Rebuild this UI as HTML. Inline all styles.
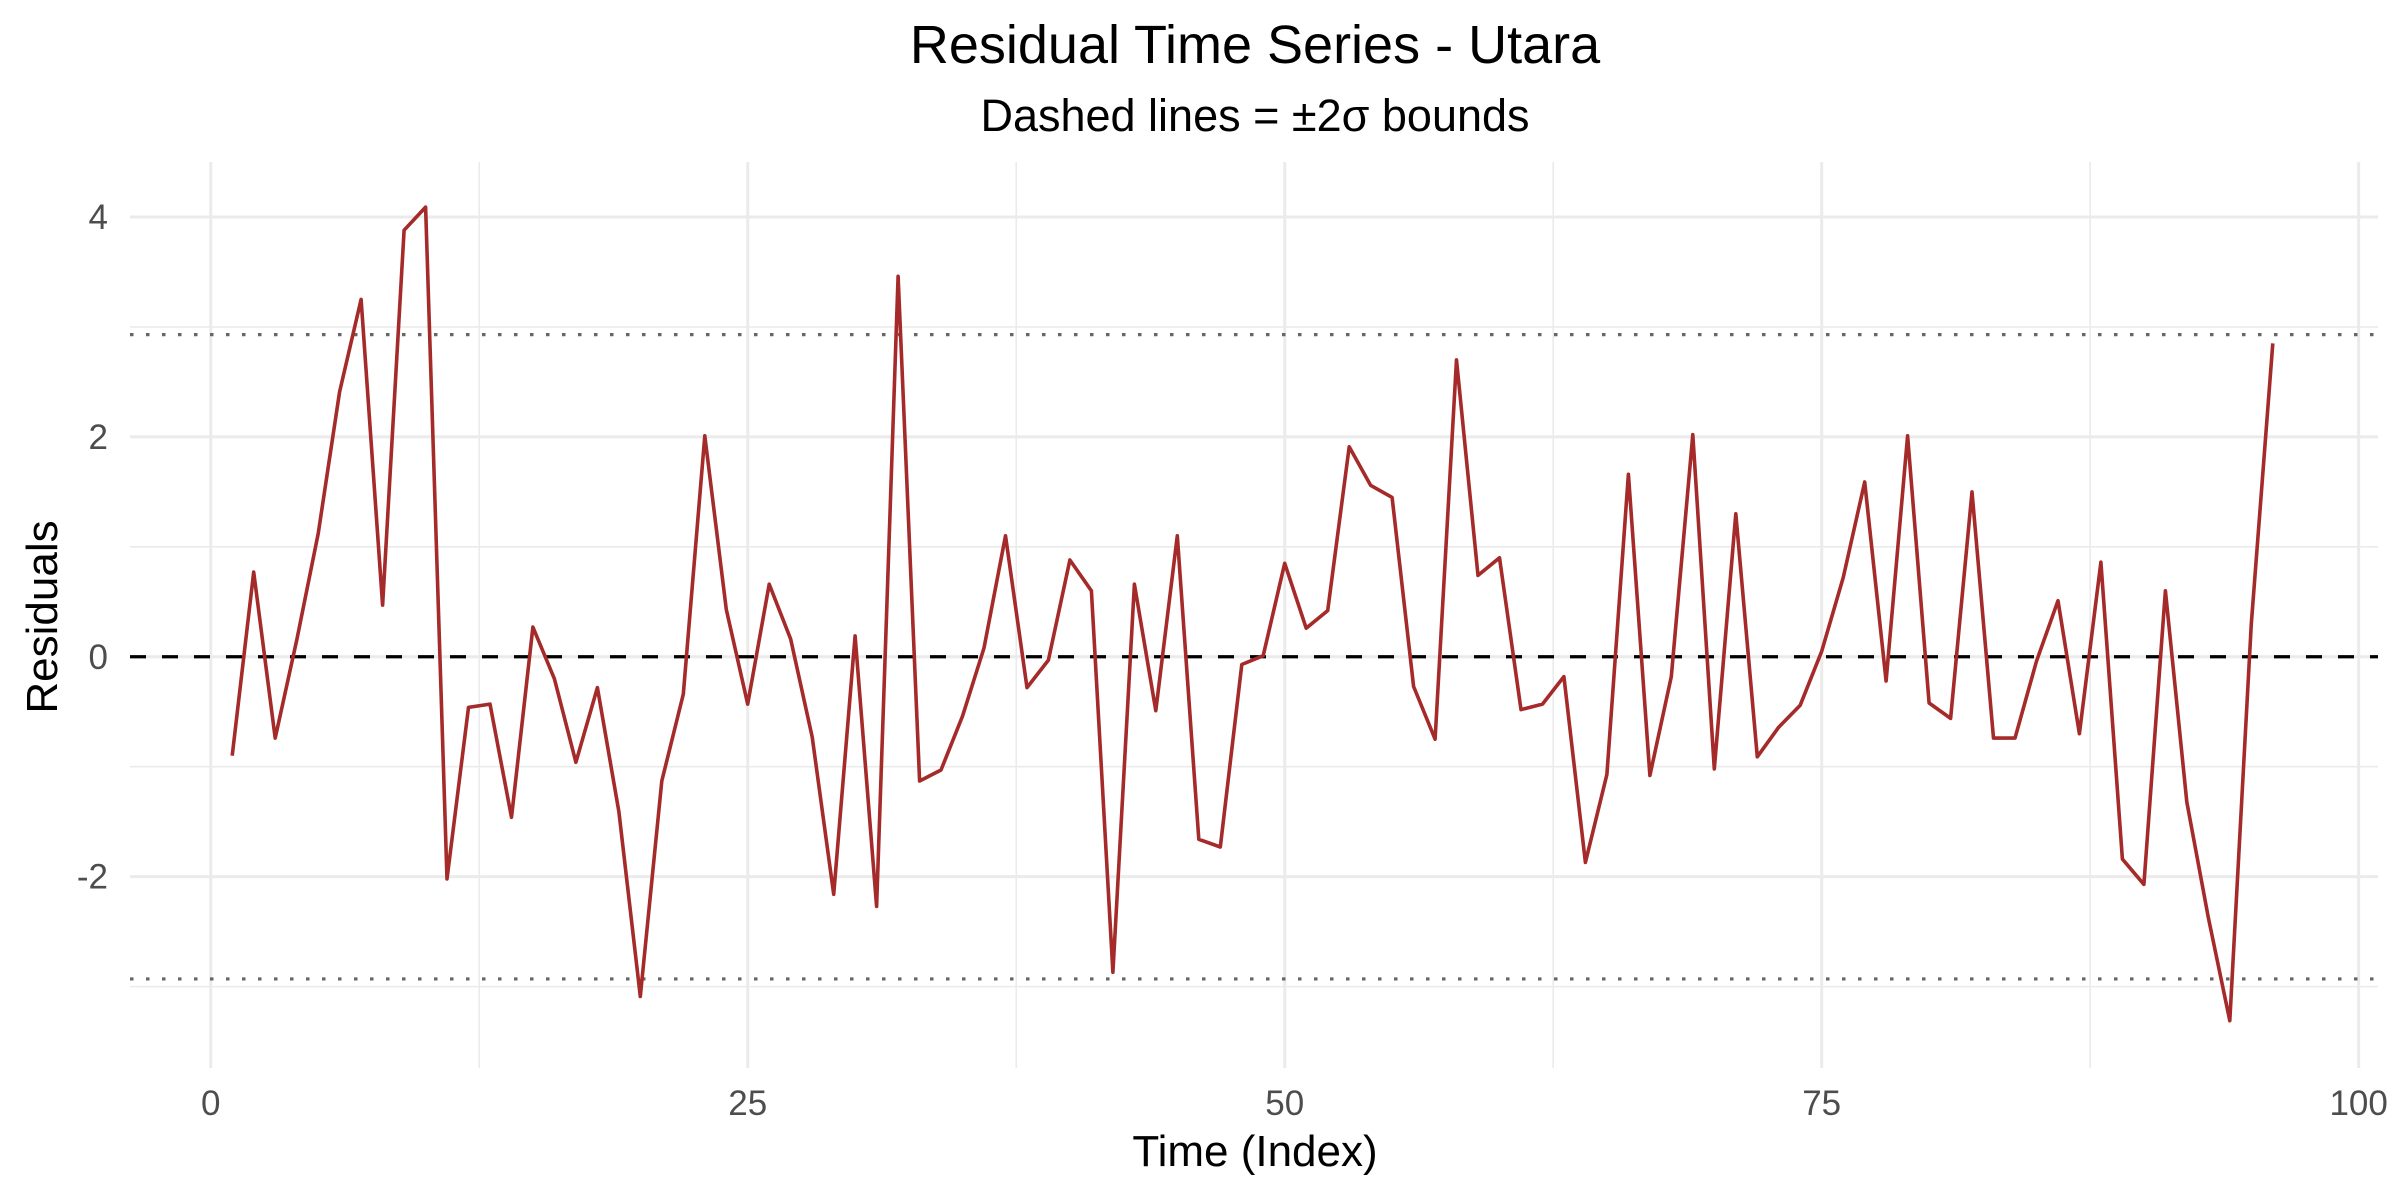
<!DOCTYPE html>
<html><head><meta charset="utf-8"><style>
html,body{margin:0;padding:0;background:#fff;}
svg{display:block;font-family:"Liberation Sans",Arial,sans-serif;}
</style></head><body>
<svg id="chart" width="2400" height="1200" viewBox="0 0 2400 1200" xmlns="http://www.w3.org/2000/svg">
<rect x="0" y="0" width="2400" height="1200" fill="#fff"/>
<text x="1255" y="63" text-anchor="middle" font-size="54" fill="#000">Residual Time Series - Utara</text>
<text x="1255" y="131" text-anchor="middle" font-size="45" fill="#000">Dashed lines = ±2σ bounds</text>
<g id="grid"></g>
<g id="refs"></g>
<g id="series"></g>
<g id="axes"></g>
<text x="1255" y="1166" text-anchor="middle" font-size="44" fill="#000">Time (Index)</text>
<text transform="translate(57,617) rotate(-90)" text-anchor="middle" font-size="44" fill="#000">Residuals</text>
</svg>
<script>
const residuals = [-0.90,0.77,-0.74,0.15,1.12,2.41,3.25,0.47,3.88,4.09,
-2.02,-0.46,-0.43,-1.46,0.27,-0.20,-0.96,-0.28,-1.41,-3.09,
-1.13,-0.34,2.01,0.43,-0.43,0.66,0.16,-0.73,-2.16,0.19,
-2.27,3.46,-1.13,-1.03,-0.54,0.08,1.10,-0.28,-0.03,0.88,
0.60,-2.87,0.66,-0.49,1.10,-1.66,-1.73,-0.07,0.01,0.85,
0.26,0.42,1.91,1.56,1.45,-0.27,-0.75,2.70,0.74,0.90,
-0.48,-0.43,-0.18,-1.87,-1.07,1.66,-1.08,-0.18,2.02,-1.02,
1.30,-0.91,-0.64,-0.44,0.05,0.72,1.59,-0.22,2.01,-0.42,
-0.56,1.50,-0.74,-0.74,-0.04,0.51,-0.70,0.86,-1.84,-2.07,
0.60,-1.32,-2.37,-3.31,0.30,2.85];
const sigmaBound = [2.93];
const xTicks = [0,25,50,75,100];
const xMinor = [12.5,37.5,62.5,87.5];
const yTicks = [-2,0,2,4];
const yMinor = [-3,-1,1,3];
const xDomain = [-3.76,100.9];
const yDomain = [-3.74,4.5];

const PL=130, PR=2378, PT=162, PB=1068;
function xs(v){return PL+(v-xDomain[0])/(xDomain[1]-xDomain[0])*(PR-PL);}
function ys(v){return PB-(v-yDomain[0])/(yDomain[1]-yDomain[0])*(PB-PT);}
const NS="http://www.w3.org/2000/svg";
function mk(tag,attrs,parent){const e=document.createElementNS(NS,tag);for(const k in attrs)e.setAttribute(k,attrs[k]);parent.appendChild(e);return e;}
const grid=document.getElementById('grid'), refs=document.getElementById('refs'), series=document.getElementById('series'), axes=document.getElementById('axes');
yMinor.forEach(v=>{const l=mk('line',{x1:PL,x2:PR,y1:ys(v),y2:ys(v),stroke:'#ebebeb','stroke-width':1.6},grid);

});
xMinor.forEach(v=>{const l=mk('line',{x1:xs(v),x2:xs(v),y1:PT,y2:PB,stroke:'#ebebeb','stroke-width':1.6},grid);

});
yTicks.forEach(v=>{const l=mk('line',{x1:PL,x2:PR,y1:ys(v),y2:ys(v),stroke:'#ebebeb','stroke-width':3},grid);


const t=mk('text',{x:108,y:ys(v)+12,'text-anchor':'end','font-size':35,fill:'#4d4d4d'},axes);t.textContent=String(v);

});
xTicks.forEach(v=>{const l=mk('line',{x1:xs(v),x2:xs(v),y1:PT,y2:PB,stroke:'#ebebeb','stroke-width':3},grid);


const t=mk('text',{x:xs(v),y:1115,'text-anchor':'middle','font-size':35,fill:'#4d4d4d'},axes);t.textContent=String(v);

});
const z=mk('line',{x1:PL,x2:PR,y1:ys(0),y2:ys(0),stroke:'#000','stroke-width':3.2,'stroke-dasharray':'16 16'},refs);


[sigmaBound[0],-sigmaBound[0]].forEach((v,i)=>{const l=mk('line',{x1:PL,x2:PR,y1:ys(v),y2:ys(v),stroke:'#666','stroke-width':3.2,'stroke-dasharray':'3.5 12.5'},refs);

});
const pts=residuals.map((v,i)=>xs(i+1).toFixed(1)+','+ys(v).toFixed(1)).join(' ');
const p=mk('polyline',{points:pts,fill:'none',stroke:'#a52a2a','stroke-width':3.6,'stroke-linejoin':'round'},series);


</script>
</body></html>
